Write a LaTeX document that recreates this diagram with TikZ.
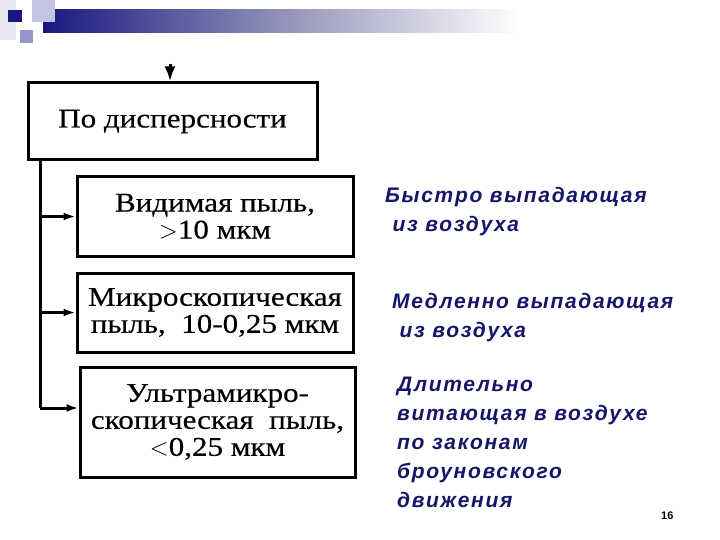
\documentclass[tikz,border=0pt]{standalone}
\usepackage{fontspec}
\setmainfont{Liberation Serif}
\newfontfamily\boxfont[FakeStretch=1.15,FakeBold=0.4]{Liberation Serif}
\newfontfamily\notefont[LetterSpace=8]{Liberation Sans}
\newfontfamily\pagefont{Liberation Sans}
\usetikzlibrary{positioning,arrows.meta}
\definecolor{hdrnavy}{RGB}{24,24,128}
\definecolor{hdrlav}{RGB}{196,196,226}
\definecolor{hdrmid}{RGB}{150,150,200}
\definecolor{hdrpale}{RGB}{232,232,242}
\definecolor{notenavy}{RGB}{22,22,104}

\begin{document}
\begin{tikzpicture}[x=1pt,y=-1pt,
    box/.style={draw,line width=3pt,align=center,inner sep=0pt,font=\boxfont\fontsize{27}{27}\selectfont},
    note/.style={anchor=base west,align=left,inner sep=0pt,text=notenavy,font=\notefont\bfseries\itshape\fontsize{21}{29}\selectfont},
    link/.style={line width=3pt,-{Latex[length=12pt,width=8pt]}}]
  \useasboundingbox (0,0) rectangle (720,540);
  % header band and squares
  \fill[hdrpale] (0,0) rectangle (16,40);
  \shade[left color=hdrnavy,right color=white,middle color=hdrmid!80!gray] (43,10) rectangle (520,33);
  \fill[hdrlav] (32,0) rectangle (55,22);
  \fill[hdrnavy] (8,10) rectangle (22,22);
  \fill[hdrmid] (20,30) rectangle (33,43);
  % boxes
  \node[box,minimum width=289pt,minimum height=77pt] (disp) at (172.5,121.5) {По дисперсности};
  \node[box,minimum width=276pt,minimum height=79pt] (vid) at (215,216.5) {Видимая пыль,\\ $>$10 мкм};
  \node[box,minimum width=276pt,minimum height=79pt] (micro) at (215,312.5) {Микроскопическая\\ пыль,~ 10-0,25 мкм};
  \node[box,minimum width=275pt,minimum height=110pt] (ultra) at (217.5,422) {Ультрамикро-\\ скопическая~ пыль,\\ $<$0,25 мкм};
  % notes (anchored at the last line)
  \node[note] (fast) at (385,232) {Быстро выпадающая\\ \ из воздуха};
  \node[note] (slow) at (392,337) {Медленно выпадающая\\ \ из воздуха};
  \node[note] (long) at (397,507) {Длительно\\ витающая в воздухе\\ по законам\\ броуновского\\ движения};
  \node[anchor=base west,inner sep=0pt,font=\pagefont\bfseries\fontsize{11}{13}\selectfont] (page) at (661,519) {16};
  % connectors
  \coordinate (in) at (170,64);
  \coordinate (trunk) at (40,160);
  \coordinate (bend) at (40,408);
  \draw[link,-{Latex[length=15pt,width=11pt]}] (in) -- (in |- disp.north);
  \draw[line width=3pt] (trunk) -- (bend);
  \draw[link] (trunk |- vid.west) -- (vid.west);
  \draw[link] (trunk |- micro.west) -- (micro.west);
  \draw[link] (bend) -- (bend -| ultra.west);
\end{tikzpicture}
\end{document}
